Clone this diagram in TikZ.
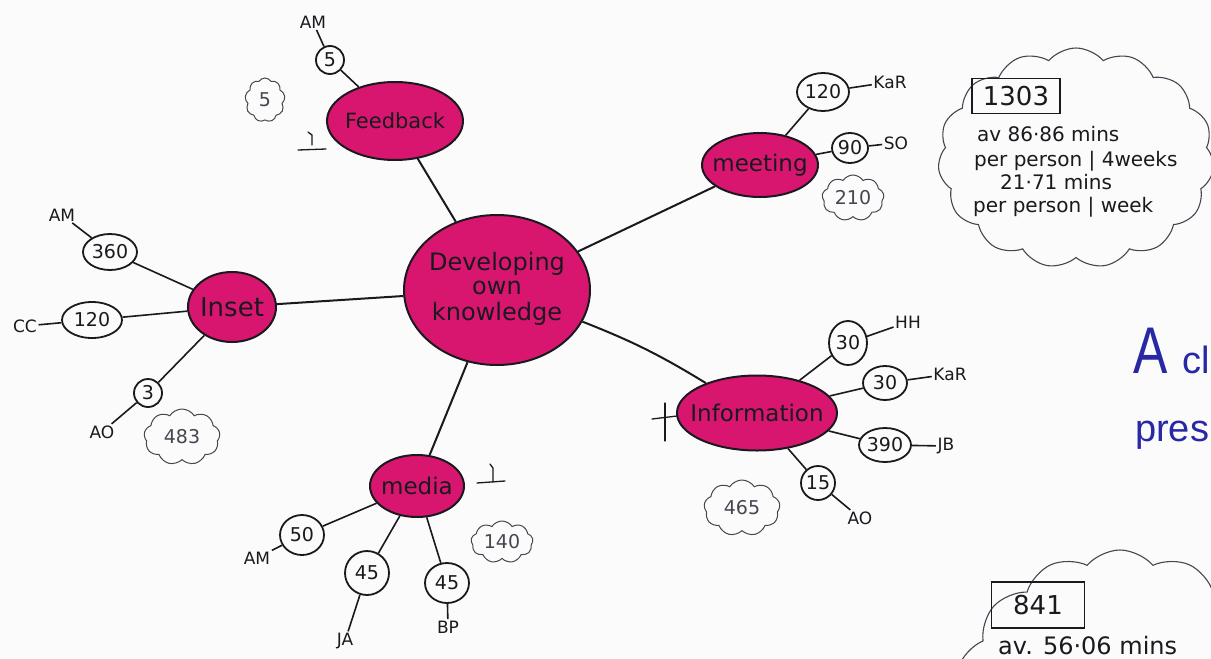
\documentclass[tikz,border=0pt]{standalone}
\usepackage{fontspec}
\setmainfont{DejaVu Sans}
\newfontfamily\inkfont{Liberation Sans}
\usetikzlibrary{shapes.geometric,shapes.symbols}

% font size helper and zero-width text so shapes keep their set size
\newcommand\fsz[1]{\fontsize{#1}{#1}\selectfont}
\newcommand\zw[1]{\makebox[0pt]{#1}}

\definecolor{ink}{RGB}{25,25,30}
\definecolor{marker}{RGB}{216,22,112}
\definecolor{cloudink}{RGB}{70,70,82}
\definecolor{blueink}{RGB}{40,40,165}
\definecolor{paper}{RGB}{251,251,251}

\tikzset{
  topic/.style={ellipse, draw=ink, fill=marker, line width=2pt, inner sep=0pt, text=ink},
  val/.style={ellipse, draw=ink, line width=1.8pt, inner sep=0pt, font=\fsz{19}, text=ink},
  who/.style={inner sep=1.5pt, font=\fsz{17}, text=ink},
  link/.style={draw=ink, line width=2pt},
  tie/.style={draw=ink, line width=1.6pt},
  sum/.style={cloud, cloud puffs=9, cloud puff arc=115, cloud ignores aspect,
              draw=cloudink, line width=1pt, inner sep=0pt, font=\fsz{19}, text=cloudink},
  bigcloud/.style={cloud, cloud puffs=15, cloud puff arc=100, cloud ignores aspect,
              draw=cloudink, line width=1.1pt, inner sep=0pt},
  note/.style={font=\fsz{20}, text=ink, inner sep=0pt},
  total/.style={draw=ink, line width=1.8pt, inner sep=0pt, font=\fsz{26}, text=ink},
  tickmark/.style={draw=ink, line width=1.3pt, line cap=round},
  blueword/.style={anchor=base west, inner sep=0pt, text=blueink, font=\inkfont},
}

\begin{document}
\begin{tikzpicture}[x=1pt,y=-1pt]
\useasboundingbox (0,0) rectangle (1211,659);
\fill[paper] (0,0) rectangle (1211,659);
\clip (0,0) rectangle (1211,659);

% ---- hub and topics
\node[topic, minimum width=186pt, minimum height=150pt, font=\fsz{24}] (dev) at (497,290)
  {\zw{\begin{tabular}{@{}c@{}}Developing\\own\\knowledge\end{tabular}}};
\node[topic, minimum width=136pt, minimum height=78pt, font=\fsz{21}] (fb) at (395,121) {\zw{Feedback}};
\node[topic, minimum width=116pt, minimum height=64pt, font=\fsz{23}] (meet) at (760,165) {\zw{meeting}};
\node[topic, minimum width=88pt, minimum height=70pt, font=\fsz{26}] (inset) at (232,307) {\zw{Inset}};
\node[topic, minimum width=160pt, minimum height=75pt, font=\fsz{23}] (info) at (757,413) {\zw{Information}};
\node[topic, minimum width=94pt, minimum height=62pt, font=\fsz{23}] (media) at (417,486) {\zw{media}};

\draw[link] (dev) -- (fb);
\draw[link] (dev) -- (meet);
\draw[link] (dev) -- (inset);
\draw[link] (dev) to[bend left=5] (info);
\draw[link] (dev) -- (media);

% ---- Feedback
\node[val, minimum width=28pt, minimum height=28pt] (fb5) at (330,60) {\zw{5}};
\node[who] (fbam) at (313,22) {AM};
\draw[tie] (fbam) -- (fb5);
\draw[tie] (fb5) -- (fb);
\node[sum, minimum width=40pt, minimum height=44pt] (fbsum) at (265,100) {\zw{5}};
\draw[tickmark] (308,132) -- (312,135) -- (312,145);
\draw[tickmark] (298,150) -- (326,149);

% ---- meeting
\node[val, minimum width=52pt, minimum height=38pt] (m120) at (823,92) {\zw{120}};
\node[who] (mkar) at (890,82) {KaR};
\draw[tie] (m120) -- (mkar);
\draw[tie] (meet) -- (m120);
\node[val, minimum width=36pt, minimum height=30pt] (m90) at (850,148) {\zw{90}};
\node[who] (mso) at (896,143) {SO};
\draw[tie] (m90) -- (mso);
\draw[tie] (meet) -- (m90);
\node[sum, minimum width=62pt, minimum height=46pt] (msum) at (853,198) {\zw{210}};

% ---- Inset
\node[val, minimum width=54pt, minimum height=36pt] (i360) at (110,252) {\zw{360}};
\node[who] (iam) at (62,215) {AM};
\draw[tie] (iam) -- (i360);
\draw[tie] (i360) -- (inset);
\node[val, minimum width=60pt, minimum height=36pt] (i120) at (92,320) {\zw{120}};
\node[who] (icc) at (25,326) {CC};
\draw[tie] (icc) -- (i120);
\draw[tie] (i120) -- (inset);
\node[val, minimum width=28pt, minimum height=28pt] (i3) at (148,393) {\zw{3}};
\node[who] (iao) at (102,432) {AO};
\draw[tie] (iao) -- (i3);
\draw[tie] (i3) -- (inset);
\node[sum, minimum width=76pt, minimum height=56pt] (isum) at (182,437) {\zw{483}};

% ---- Information
\node[val, minimum width=38pt, minimum height=44pt] (f30a) at (848,343) {\zw{30}};
\node[who] (fhh) at (908,322) {HH};
\draw[tie] (f30a) -- (fhh);
\draw[tie] (info) -- (f30a);
\node[val, minimum width=44pt, minimum height=34pt] (f30b) at (885,383) {\zw{30}};
\node[who] (fkar) at (950,374) {KaR};
\draw[tie] (f30b) -- (fkar);
\draw[tie] (info) -- (f30b);
\node[val, minimum width=52pt, minimum height=34pt] (f390) at (885,445) {\zw{390}};
\node[who] (fjb) at (946,446) {JB};
\draw[tie] (f390) -- (fjb);
\draw[tie] (info) -- (f390);
\node[val, minimum width=34pt, minimum height=34pt] (f15) at (818,483) {\zw{15}};
\node[who] (fao) at (860,518) {AO};
\draw[tie] (f15) -- (fao);
\draw[tie] (info) -- (f15);
\node[sum, minimum width=76pt, minimum height=56pt] (fsum) at (742,508) {\zw{465}};
\draw[tickmark] (665,403) -- (665,441);
\draw[tickmark] (652,419) -- (677,416);

% ---- media
\node[val, minimum width=44pt, minimum height=40pt] (d50) at (302,535) {\zw{50}};
\node[who] (dam) at (257,558) {AM};
\draw[tie] (dam) -- (d50);
\draw[tie] (d50) -- (media);
\node[val, minimum width=44pt, minimum height=44pt] (d45a) at (367,573) {\zw{45}};
\node[who] (dja) at (345,641) {JA};
\draw[tie] (d45a) -- (dja);
\draw[tie] (media) -- (d45a);
\node[val, minimum width=44pt, minimum height=40pt] (d45b) at (447,583) {\zw{45}};
\node[who] (dbp) at (448,627) {BP};
\draw[tie] (d45b) -- (dbp);
\draw[tie] (media) -- (d45b);
\node[sum, minimum width=62pt, minimum height=42pt] (dsum) at (502,542) {\zw{140}};
\draw[tickmark] (490,464) -- (493,468) -- (493,482);
\draw[tickmark] (477,483) -- (505,481);

% ---- totals, top right
\node[bigcloud, minimum width=276pt, minimum height=220pt] (topcloud) at (1076,158) {};
\node[total, minimum width=88pt, minimum height=35pt] (t1303) at (1016,96) {1303};
\node[note, anchor=base west] (t1) at (977,141) {av 86·86 mins};
\node[note, anchor=base west] (t2) at (974,166) {per person | 4weeks};
\node[note, anchor=base west] (t3) at (1000,189) {21·71 mins};
\node[note, anchor=base west] (t4) at (973,212) {per person | week};

% ---- totals, bottom right
\node[bigcloud, minimum width=340pt, minimum height=340pt] (lowcloud) at (1120,720) {};
\node[total, minimum width=93pt, minimum height=46pt] (t841) at (1038,605) {841};
\node[note, anchor=base west, font=\fsz{24}] (t5) at (998,654) {av. 56·06 mins};

% ---- blue writing at the right edge
\node[blueword] (acl) at (1133,373) {{\fsz{66}\scalebox{0.78}[1]{A}}\hspace{15pt}{\fsz{38}cl}};
\node[blueword, font=\inkfont\fsz{38}] (pres) at (1135,441) {pres};
\end{tikzpicture}
\end{document}
